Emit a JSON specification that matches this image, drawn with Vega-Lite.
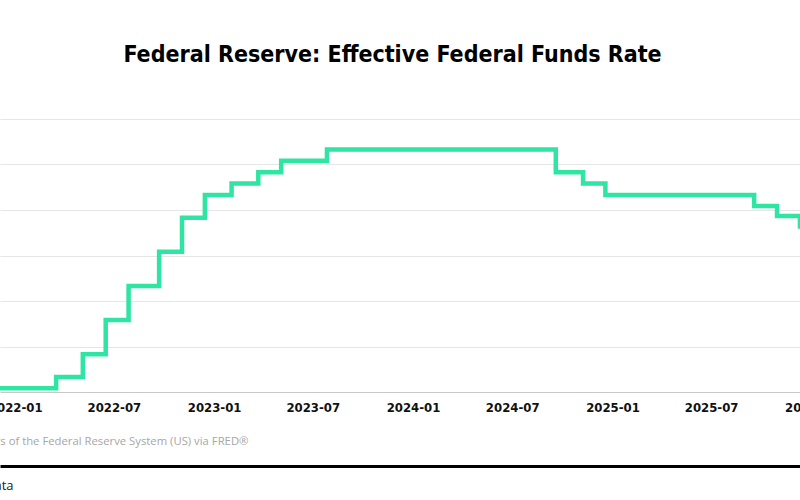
{
  "$schema": "https://vega.github.io/schema/vega-lite/v6.json",
  "autosize": {"type": "none"},
  "width": 819,
  "height": 273,
  "padding": {"left": 0, "top": 119, "right": -19, "bottom": 108},
  "background": "#ffffff",
  "title": {
    "text": "Federal Reserve: Effective Federal Funds Rate",
    "font": "DejaVu Sans Condensed, sans-serif",
    "fontSize": 23,
    "fontWeight": "bold",
    "color": "#000000",
    "anchor": "middle",
    "dx": -17,
    "baseline": "alphabetic",
    "offset": 34
  },
  "config": {"view": {"stroke": null}},
  "data": {
    "values": [
      {"date": "2021-11-01", "rate": 0.08},
      {"date": "2022-03-17", "rate": 0.33},
      {"date": "2022-05-05", "rate": 0.83},
      {"date": "2022-06-16", "rate": 1.58},
      {"date": "2022-07-28", "rate": 2.33},
      {"date": "2022-09-22", "rate": 3.08},
      {"date": "2022-11-03", "rate": 3.83},
      {"date": "2022-12-15", "rate": 4.33},
      {"date": "2023-02-02", "rate": 4.58},
      {"date": "2023-03-23", "rate": 4.83},
      {"date": "2023-05-04", "rate": 5.08},
      {"date": "2023-07-27", "rate": 5.33},
      {"date": "2024-09-19", "rate": 4.83},
      {"date": "2024-11-08", "rate": 4.58},
      {"date": "2024-12-19", "rate": 4.33},
      {"date": "2025-09-18", "rate": 4.09},
      {"date": "2025-10-30", "rate": 3.87},
      {"date": "2025-12-11", "rate": 3.64},
      {"date": "2026-01-15", "rate": 3.64}
    ]
  },
  "mark": {"type": "line", "interpolate": "step-after", "color": "#2ee5a4", "strokeWidth": 4.5, "clip": true},
  "encoding": {
    "x": {
      "field": "date",
      "type": "temporal",
      "scale": {"domain": ["2021-12-04", "2026-01-15"]},
      "axis": {
        "orient": "bottom",
        "offset": 74,
        "format": "%Y-%m",
        "tickCount": {"interval": "month", "step": 6},
        "labelFlush": false,
        "labelOverlap": false,
        "grid": false,
        "ticks": false,
        "domainColor": "#000000",
        "domainWidth": 3,
        "labelPadding": -65,
        "labelFont": "DejaVu Sans Condensed, sans-serif",
        "labelFontSize": 13,
        "labelFontWeight": "bold",
        "labelColor": "#111111",
        "title": "Source: Board of Governors of the Federal Reserve System (US) via FRED®",
        "titleX": 248,
        "titleY": -22,
        "titleAlign": "right",
        "titleBaseline": "alphabetic",
        "titleFont": "Open Sans",
        "titleFontSize": 11.3,
        "titleFontWeight": "normal",
        "titleColor": "#a6a6a6"
      }
    },
    "y": {
      "field": "rate",
      "type": "quantitative",
      "scale": {"domain": [0, 6], "nice": false},
      "axis": {
        "values": [0, 1, 2, 3, 4, 5, 6],
        "labels": false,
        "ticks": false,
        "domain": false,
        "grid": true,
        "gridColor": {"condition": {"test": "datum.value === 0", "value": "#c8c8c8"}, "value": "#e6e6e6"},
        "gridWidth": 1,
        "title": "Data",
        "titleAngle": 0,
        "titleX": 13,
        "titleY": 370,
        "titleAlign": "right",
        "titleBaseline": "alphabetic",
        "titleFont": "Open Sans",
        "titleFontSize": 13,
        "titleFontWeight": "normal",
        "titleColor": "#222222"
      }
    }
  }
}
